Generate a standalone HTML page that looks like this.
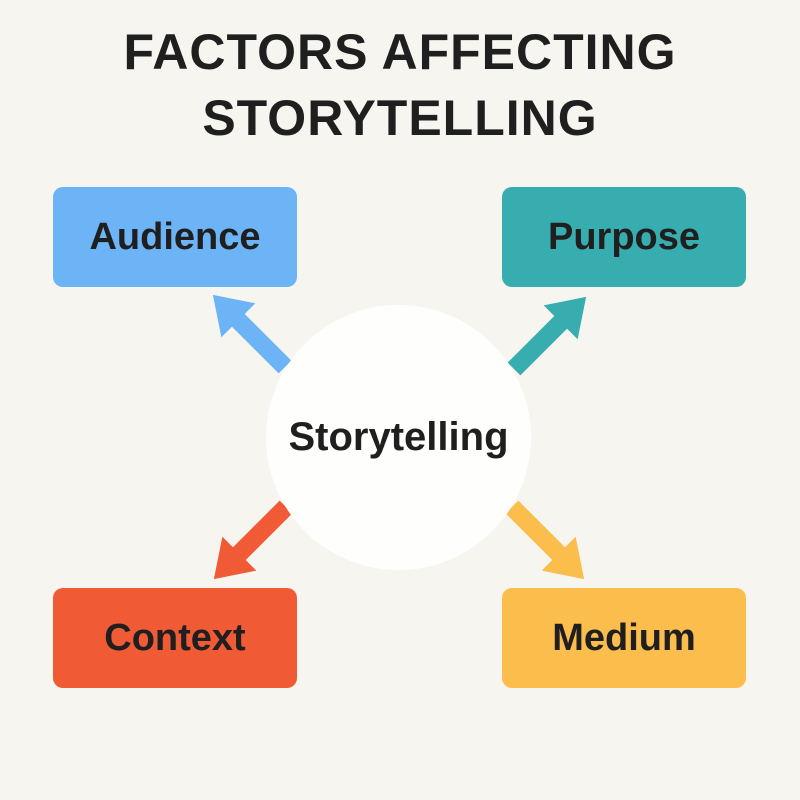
<!DOCTYPE html>
<html><head><style>
body{margin:0;width:800px;height:800px;background:#f7f5f0;font-family:"Liberation Sans",sans-serif;position:relative;overflow:hidden}
.t{position:absolute;left:0;width:800px;text-align:center;font-weight:bold;font-size:50px;color:#1f1f1f;letter-spacing:1px}
.b{position:absolute;width:244px;height:100px;border-radius:10px;display:flex;align-items:center;justify-content:center;font-size:38px;font-weight:bold;color:#1f1f1f}
.c{position:absolute;left:266px;top:305px;width:265px;height:265px;border-radius:50%;background:#fefefc;display:flex;align-items:center;justify-content:center;font-size:40px;font-weight:bold;color:#1f1f1f}
</style></head><body>
<div class="t" style="top:23px">FACTORS AFFECTING</div>
<div class="t" style="top:89px">STORYTELLING</div>
<div class="b" style="left:53px;top:187px;background:#6cb4f5">Audience</div>
<div class="b" style="left:502px;top:187px;background:#38adb0">Purpose</div>
<div class="b" style="left:53px;top:588px;background:#f05a35">Context</div>
<div class="b" style="left:502px;top:588px;background:#fbbd4c">Medium</div>
<svg width="800" height="800" style="position:absolute;left:0;top:0">
<defs><polygon id="ar" points="0,-9 66,-9 66,-24 102,0 66,24 66,9 0,9"/></defs>
<use href="#ar" fill="#6cb4f5" transform="translate(285,367) rotate(-135)"/>
<use href="#ar" fill="#38adb0" transform="translate(514,369) rotate(-45)"/>
<use href="#ar" fill="#f05a35" transform="translate(286,507) rotate(135)"/>
<use href="#ar" fill="#fbbd4c" transform="translate(512,507) rotate(45)"/>
</svg>
<div class="c">Storytelling</div>
</body></html>
